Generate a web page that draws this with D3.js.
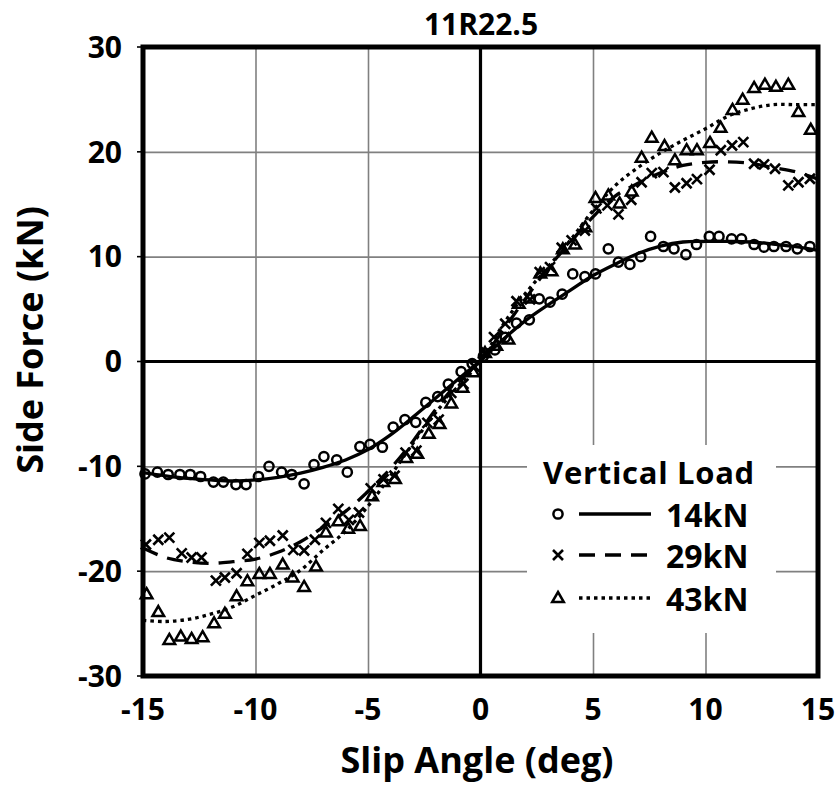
<!DOCTYPE html>
<html>
<head>
<meta charset="utf-8">
<script src="https://cdn.jsdelivr.net/npm/d3@7"></script>
<style>
  body { margin: 0; background: #fff; }
  svg { display: block; font-family: "Open Sans", Lato, sans-serif; font-weight: 700; }
</style>
</head>
<body>
<svg id="chart" width="840" height="785"></svg>
<script>
// measured points, slip angle (deg) vs side force (kN)
const x14 = [-14.91, -14.36, -13.88, -13.36, -12.90, -12.44, -11.87, -11.43, -10.87, -10.42, -9.87, -9.40, -8.84, -8.39, -7.84, -7.40, -6.96, -6.39, -5.92, -5.36, -4.91, -4.36, -3.88, -3.36, -2.88, -2.43, -1.90, -1.43, -0.86, -0.37, 0.13, 0.64, 1.10, 1.60, 2.17, 2.61, 3.09, 3.63, 4.10, 4.64, 5.11, 5.68, 6.13, 6.64, 7.12, 7.56, 8.13, 8.60, 9.13, 9.60, 10.17, 10.60, 11.16, 11.60, 12.16, 12.60, 13.04, 13.58, 14.08, 14.64]
const y14 = [-10.72, -10.56, -10.78, -10.78, -10.78, -10.97, -11.5, -11.5, -11.74, -11.74, -10.97, -10.0, -10.56, -10.78, -11.67, -9.83, -9.07, -9.38, -10.56, -8.11, -7.9, -8.18, -6.25, -5.55, -5.8, -3.9, -3.35, -2.15, -0.97, -0.2, 0.5, 1.1, 2.3, 3.66, 3.98, 5.98, 5.66, 6.42, 8.35, 8.1, 8.35, 10.75, 9.48, 9.26, 10.0, 11.93, 10.97, 10.75, 10.2, 11.16, 11.93, 11.93, 11.7, 11.7, 11.16, 10.9, 10.97, 10.97, 10.75, 10.97]

const x29 = [-14.87, -14.32, -13.83, -13.28, -12.84, -12.40, -11.76, -11.36, -10.84, -10.36, -9.83, -9.36, -8.79, -8.32, -7.84, -7.36, -6.87, -6.32, -5.85, -5.40, -4.88, -4.31, -3.82, -3.33, -2.85, -2.36, -1.86, -1.30, -0.76, -0.26, 0.24, 0.60, 1.10, 1.60, 2.20, 2.63, 3.09, 3.61, 4.05, 4.64, 5.15, 5.64, 6.13, 6.70, 7.16, 7.61, 8.13, 8.64, 9.16, 9.62, 10.18, 10.68, 11.18, 11.68, 12.16, 12.60, 13.09, 13.68, 14.13, 14.64]
const y29 = [-17.46, -17.0, -16.8, -18.3, -18.7, -18.7, -20.9, -20.6, -20.2, -18.35, -17.3, -17.1, -16.6, -17.97, -18.03, -17.0, -15.4, -14.06, -15.1, -14.4, -12.1, -11.25, -10.9, -8.7, -8.5, -5.85, -5.55, -3.0, -2.13, -0.5, 0.9, 2.32, 3.6, 5.75, 5.93, 8.52, 9.0, 10.85, 11.55, 12.5, 14.6, 14.9, 14.03, 15.43, 17.1, 17.97, 18.06, 16.6, 17.0, 17.4, 18.29, 20.15, 20.6, 20.93, 18.86, 18.8, 18.39, 16.8, 17.1, 17.43]

const x43 = [-14.84, -14.32, -13.83, -13.32, -12.84, -12.35, -11.84, -11.36, -10.84, -10.36, -9.83, -9.36, -8.79, -8.35, -7.84, -7.31, -6.87, -6.32, -5.88, -5.35, -4.82, -4.32, -3.80, -3.30, -2.81, -2.30, -1.82, -1.30, -0.80, -0.32, 0.20, 0.70, 1.24, 1.70, 2.20, 2.66, 3.16, 3.66, 4.20, 4.66, 5.11, 5.68, 6.18, 6.72, 7.16, 7.61, 8.18, 8.64, 9.16, 9.62, 10.20, 10.67, 11.20, 11.65, 12.16, 12.64, 13.13, 13.68, 14.13, 14.68]
const y43 = [-22.2, -23.9, -26.56, -26.24, -26.46, -26.3, -24.97, -24.07, -22.4, -20.96, -20.26, -20.26, -19.37, -20.6, -21.5, -19.56, -16.3, -15.25, -15.95, -15.7, -12.85, -11.5, -11.2, -9.2, -8.8, -6.9, -5.95, -4.0, -2.5, -1.02, 0.8, 1.5, 2.1, 5.5, 6.0, 8.4, 8.6, 10.7, 11.16, 12.8, 15.6, 15.84, 15.08, 16.22, 19.44, 21.35, 20.55, 19.2, 20.16, 20.16, 20.85, 22.3, 24.0, 24.97, 26.1, 26.4, 26.2, 26.4, 23.8, 22.1]

const fitX = [-15, -14, -13, -12, -11, -10, -9, -8, -7, -6, -5, -4, -3, -2, -1, 0, 1, 2, 3, 4, 5, 6, 7, 8, 9, 10, 11, 12, 13, 14, 15]
const fit14 = [-10.6, -10.9, -11.15, -11.3, -11.4, -11.3, -11.05, -10.65, -10.1, -9.4, -8.4, -7.0, -5.3, -3.5, -1.7, 0.1, 2.1, 3.9, 5.4, 6.8, 8.2, 9.3, 10.3, 11.0, 11.4, 11.45, 11.45, 11.4, 11.2, 10.95, 10.6]
const fit29 = [-17.8, -18.7, -19.1, -19.25, -19.1, -18.85, -18.2, -17.2, -15.8, -14.3, -12.4, -10.2, -7.6, -4.6, -2.0, 0, 3.0, 6.0, 8.9, 11.4, 13.8, 15.8, 17.0, 18.0, 18.7, 19.0, 19.05, 18.9, 18.5, 18.1, 17.4]
const fit43 = [-24.7, -24.8, -24.6, -24.1, -23.4, -22.3, -21.2, -19.9, -18.0, -16.2, -13.8, -10.9, -7.8, -4.9, -2.4, 0, 3.5, 6.5, 9.0, 11.6, 14.4, 16.8, 18.5, 19.9, 21.1, 22.2, 23.4, 24.1, 24.5, 24.5, 24.5]

const xTicks = [-15, -10, -5, 0, 5, 10, 15]
const yTicks = [-30, -20, -10, 0, 10, 20, 30]
const loads = ['14kN', '29kN', '43kN']

const svg = d3.select('#chart')
const plotLeft = 143, plotRight = 818, plotTop = 47, plotBottom = 676

const x = d3.scaleLinear().domain([-15, 15]).range([plotLeft, plotRight])
const y = d3.scaleLinear().domain([-30, 30]).range([plotBottom, plotTop])

// grid
svg.append('g')
  .attr('transform', `translate(0,${plotBottom})`)
  .call(d3.axisBottom(x).tickValues(xTicks).tickSize(-(plotBottom - plotTop)).tickFormat(''))
  .call(g => g.select('.domain').remove())
  .call(g => g.selectAll('line').attr('stroke', '#808080').attr('stroke-width', 1.6))
svg.append('g')
  .attr('transform', `translate(${plotLeft},0)`)
  .call(d3.axisLeft(y).tickValues(yTicks).tickSize(-(plotRight - plotLeft)).tickFormat(''))
  .call(g => g.select('.domain').remove())
  .call(g => g.selectAll('line').attr('stroke', '#808080').attr('stroke-width', 1.6))

// small outer tick marks on left
svg.append('g').selectAll('line').data(yTicks).join('line')
  .attr('x1', plotLeft - 6).attr('x2', plotLeft).attr('y1', d => y(d)).attr('y2', d => y(d))
  .attr('stroke', '#000').attr('stroke-width', 1.6)

// zero lines
svg.append('line').attr('x1', plotLeft).attr('x2', plotRight).attr('y1', y(0)).attr('y2', y(0))
  .attr('stroke', '#000').attr('stroke-width', 3.2)
svg.append('line').attr('x1', x(0)).attr('x2', x(0)).attr('y1', plotTop).attr('y2', plotBottom)
  .attr('stroke', '#000').attr('stroke-width', 3.2)

// fit lines
const line = d3.line().x(d => x(d[0])).y(d => y(d[1])).curve(d3.curveCatmullRom)
const fits = [
  { vals: fit14, dash: null },
  { vals: fit29, dash: '16,10' },
  { vals: fit43, dash: '3.5,4' }
]
fits.forEach(f => {
  svg.append('path')
    .datum(fitX.map((v, i) => [v, f.vals[i]]))
    .attr('d', line)
    .attr('fill', 'none')
    .attr('stroke', '#000')
    .attr('stroke-width', 3.3)
    .attr('stroke-dasharray', f.dash)
})

// markers
const markerStyle = sel => sel.attr('fill', 'none').attr('stroke', '#000').attr('stroke-width', 2.5)
function drawCircle(g, cx, cy) {
  g.append('circle').attr('cx', cx).attr('cy', cy).attr('r', 4.6).call(markerStyle)
}
function drawCross(g, cx, cy) {
  g.append('path').attr('d', `M${cx - 5},${cy - 5}L${cx + 5},${cy + 5}M${cx - 5},${cy + 5}L${cx + 5},${cy - 5}`)
    .call(markerStyle).attr('stroke-width', 2.6)
}
function drawTriangle(g, cx, cy) {
  g.append('path').attr('d', `M${cx},${cy - 6}L${cx + 5.8},${cy + 4}L${cx - 5.8},${cy + 4}Z`)
    .call(markerStyle).attr('stroke-linejoin', 'miter')
}

const pts = svg.append('g')
x14.forEach((v, i) => drawCircle(pts, x(v), y(y14[i])))
x29.forEach((v, i) => drawCross(pts, x(v), y(y29[i])))
x43.forEach((v, i) => drawTriangle(pts, x(v), y(y43[i])))

// tick labels
svg.append('g').selectAll('text').data(xTicks).join('text')
  .attr('x', d => x(d)).attr('y', 720)
  .attr('text-anchor', 'middle').attr('font-size', 30)
  .text(d => d)
svg.append('g').selectAll('text').data(yTicks).join('text')
  .attr('x', 122).attr('y', d => y(d)).attr('dy', '0.36em')
  .attr('text-anchor', 'end').attr('font-size', 30)
  .text(d => d)

// titles
svg.append('text').attr('x', 481).attr('y', 35).attr('text-anchor', 'middle')
  .attr('font-size', 30).text('11R22.5')
svg.append('text').attr('x', 477).attr('y', 773).attr('text-anchor', 'middle')
  .attr('font-size', 36).text('Slip Angle (deg)')
svg.append('text').attr('transform', 'translate(43,340) rotate(-90)').attr('text-anchor', 'middle')
  .attr('font-size', 36).text('Side Force (kN)')

// legend
const lg = svg.append('g')
lg.append('rect').attr('x', 527).attr('y', 445).attr('width', 249).attr('height', 188).attr('fill', '#fff')
lg.append('text').attr('x', 649).attr('y', 484).attr('text-anchor', 'middle')
  .attr('font-size', 31).attr('letter-spacing', 0.7).text('Vertical Load')
const rowY = [514, 555, 598]
const markers = [drawCircle, drawCross, drawTriangle]
loads.forEach((name, i) => {
  markers[i](lg, 558, rowY[i])
  lg.append('line').attr('x1', 579).attr('x2', 651).attr('y1', rowY[i]).attr('y2', rowY[i])
    .attr('stroke', '#000').attr('stroke-width', 3.3).attr('stroke-dasharray', fits[i].dash)
  lg.append('text').attr('x', 666).attr('y', rowY[i] + 13).attr('font-size', 32).text(name)
})

// frame
svg.append('rect').attr('x', plotLeft).attr('y', plotTop).attr('width', plotRight - plotLeft).attr('height', plotBottom - plotTop)
  .attr('fill', 'none').attr('stroke', '#000').attr('stroke-width', 5)
</script>
</body>
</html>
